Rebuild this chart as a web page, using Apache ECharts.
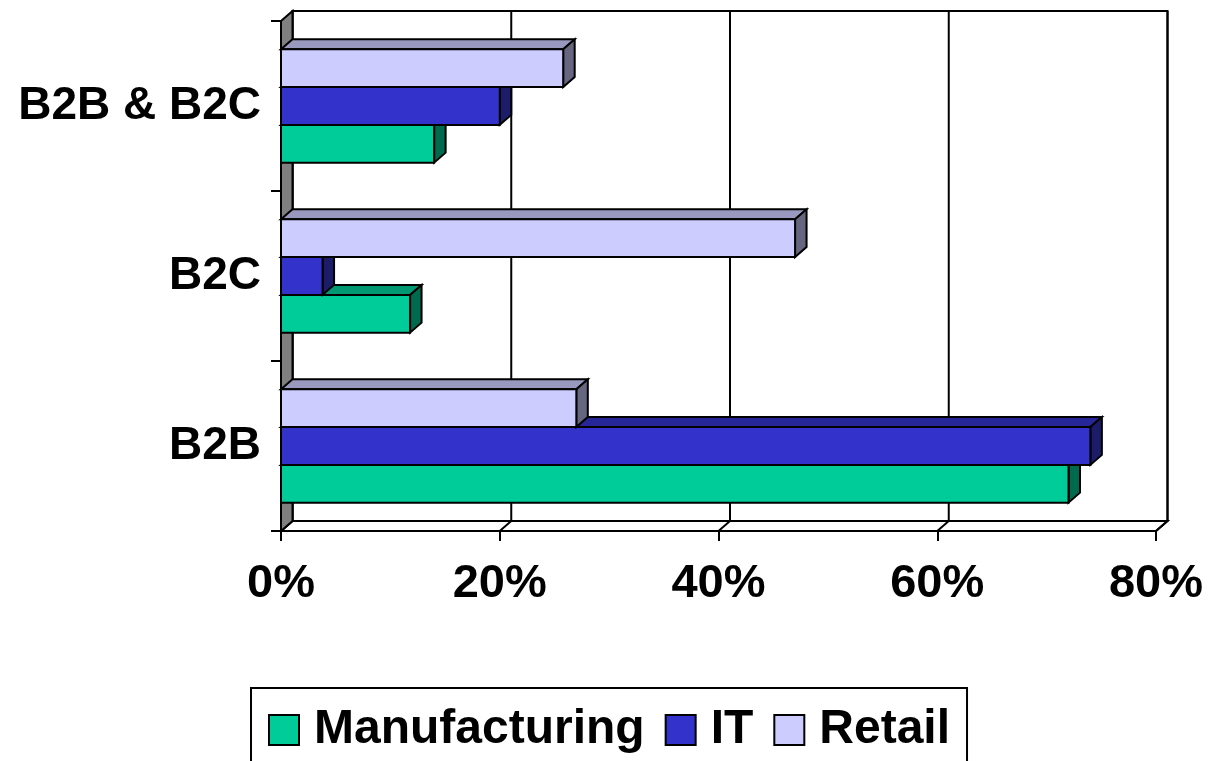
<!DOCTYPE html>
<html>
<head>
<meta charset="utf-8">
<script src="https://cdn.jsdelivr.net/npm/echarts@6/dist/echarts.min.js"></script>
<style>
  html, body { margin: 0; padding: 0; background: #fff; }
  #chart { width: 1211px; height: 761px; }
</style>
</head>
<body>
<div id="chart"></div>
<script>
// ---- data ----
var categories = ['B2B', 'B2C', 'B2B & B2C'];
var seriesNames = ['Manufacturing', 'IT', 'Retail'];
var manufacturing = [72, 11.8, 14];
var it = [74, 3.8, 20];
var retail = [27, 47, 25.8];
var xTicks = [0, 20, 40, 60, 80];

// ---- styles ----
var FONT = '"Liberation Sans", Arial, sans-serif';
var DX = 11.5, DY = 10;
var faceColors = [
  { front: '#00CC99', top: '#009973', side: '#006A4F' },
  { front: '#3333CC', top: '#262699', side: '#1C1C6B' },
  { front: '#CCCCFF', top: '#9999BF', side: '#666680' }
];
var seriesData = [manufacturing, it, retail];

function barRender(k) {
  return function (params, api) {
    var val = api.value(0);
    var cat = api.value(1);
    var p0 = api.coord([0, cat]);
    var p1 = api.coord([val, cat]);
    var band = api.size([0, 1])[1];
    var h = band * (2 / 3) / 3;
    var yb = p0[1] + 1.5 * h - k * h;
    var yt = yb - h;
    var x0 = p0[0], x1 = p1[0];
    var c = faceColors[k];
    var st = { stroke: '#000', lineWidth: 2, lineJoin: 'miter' };
    return {
      type: 'group',
      children: [
        { type: 'polygon', shape: { points: [[x0, yt], [x1, yt], [x1 + DX, yt - DY], [x0 + DX, yt - DY]] },
          style: Object.assign({ fill: c.top }, st) },
        { type: 'polygon', shape: { points: [[x1, yt], [x1 + DX, yt - DY], [x1 + DX, yb - DY], [x1, yb]] },
          style: Object.assign({ fill: c.side }, st) },
        { type: 'rect', shape: { x: x0, y: yt, width: x1 - x0, height: h },
          style: Object.assign({ fill: c.front }, st) }
      ]
    };
  };
}

function wallRender(params, api) {
  var cs = params.coordSys;
  var L = cs.x, T = cs.y, R = cs.x + cs.width, B = cs.y + cs.height;
  var st = { stroke: '#000', lineWidth: 2 };
  var children = [];
  // back wall
  children.push({ type: 'rect', shape: { x: L + DX, y: T - DY, width: R - L, height: B - T },
    style: Object.assign({ fill: '#fff' }, st) });
  // floor
  children.push({ type: 'polygon', shape: { points: [[L, B], [R, B], [R + DX, B - DY], [L + DX, B - DY]] },
    style: Object.assign({ fill: '#fff' }, st) });
  // gridlines on back wall and floor
  xTicks.forEach(function (v) {
    var x = api.coord([v, 0])[0];
    children.push({ type: 'line', shape: { x1: x + DX, y1: T - DY, x2: x + DX, y2: B - DY }, style: st });
    children.push({ type: 'line', shape: { x1: x, y1: B, x2: x + DX, y2: B - DY }, style: st });
  });
  // side wall
  children.push({ type: 'polygon', shape: { points: [[L, T], [L + DX, T - DY], [L + DX, B - DY], [L, B]] },
    style: Object.assign({ fill: '#808080' }, st) });
  return { type: 'group', children: children };
}

var series = [{
  type: 'custom',
  name: '_walls',
  silent: true,
  z: 1,
  renderItem: wallRender,
  data: [[0, 0]],
  encode: { x: 0, y: 1 }
}];
seriesNames.forEach(function (name, k) {
  series.push({
    type: 'custom',
    name: name,
    z: 2 + k,
    itemStyle: { color: faceColors[k].front },
    renderItem: barRender(k),
    encode: { x: 0, y: 1 },
    data: seriesData[k].map(function (v, i) { return [v, i]; })
  });
});

var chart = echarts.init(document.getElementById('chart'), null, { renderer: 'canvas' });
chart.setOption({
  animation: false,
  backgroundColor: '#fff',
  grid: { left: 281, right: 55, top: 21, bottom: 230, containLabel: false },
  xAxis: {
    type: 'value', min: 0, max: 80, interval: 20,
    splitLine: { show: false },
    axisLine: { show: true, lineStyle: { color: '#000', width: 2 } },
    axisTick: { show: true, length: 10, lineStyle: { color: '#000', width: 2 } },
    axisLabel: { formatter: '{value}%', color: '#000', fontSize: 47, fontWeight: 'bold', fontFamily: FONT, margin: 30 }
  },
  yAxis: {
    type: 'category', data: categories,
    axisLine: { show: true, lineStyle: { color: '#000', width: 2 } },
    axisTick: { show: true, length: 10, lineStyle: { color: '#000', width: 2 } },
    axisLabel: { color: '#000', fontSize: 46, fontWeight: 'bold', fontFamily: FONT, margin: 20 }
  },
  legend: {
    data: seriesNames,
    left: 251, top: 688,
    orient: 'horizontal',
    icon: 'rect',
    itemWidth: 30, itemHeight: 30,
    itemGap: 20,
    padding: [18, 17, 20, 17],
    borderColor: '#000', borderWidth: 2,
    itemStyle: { borderColor: '#000', borderWidth: 2 },
    textStyle: { color: '#000', fontSize: 48, fontWeight: 'bold', fontFamily: FONT, padding: [0, 0, 0, 10] }
  },
  series: series
});
</script>
</body>
</html>
